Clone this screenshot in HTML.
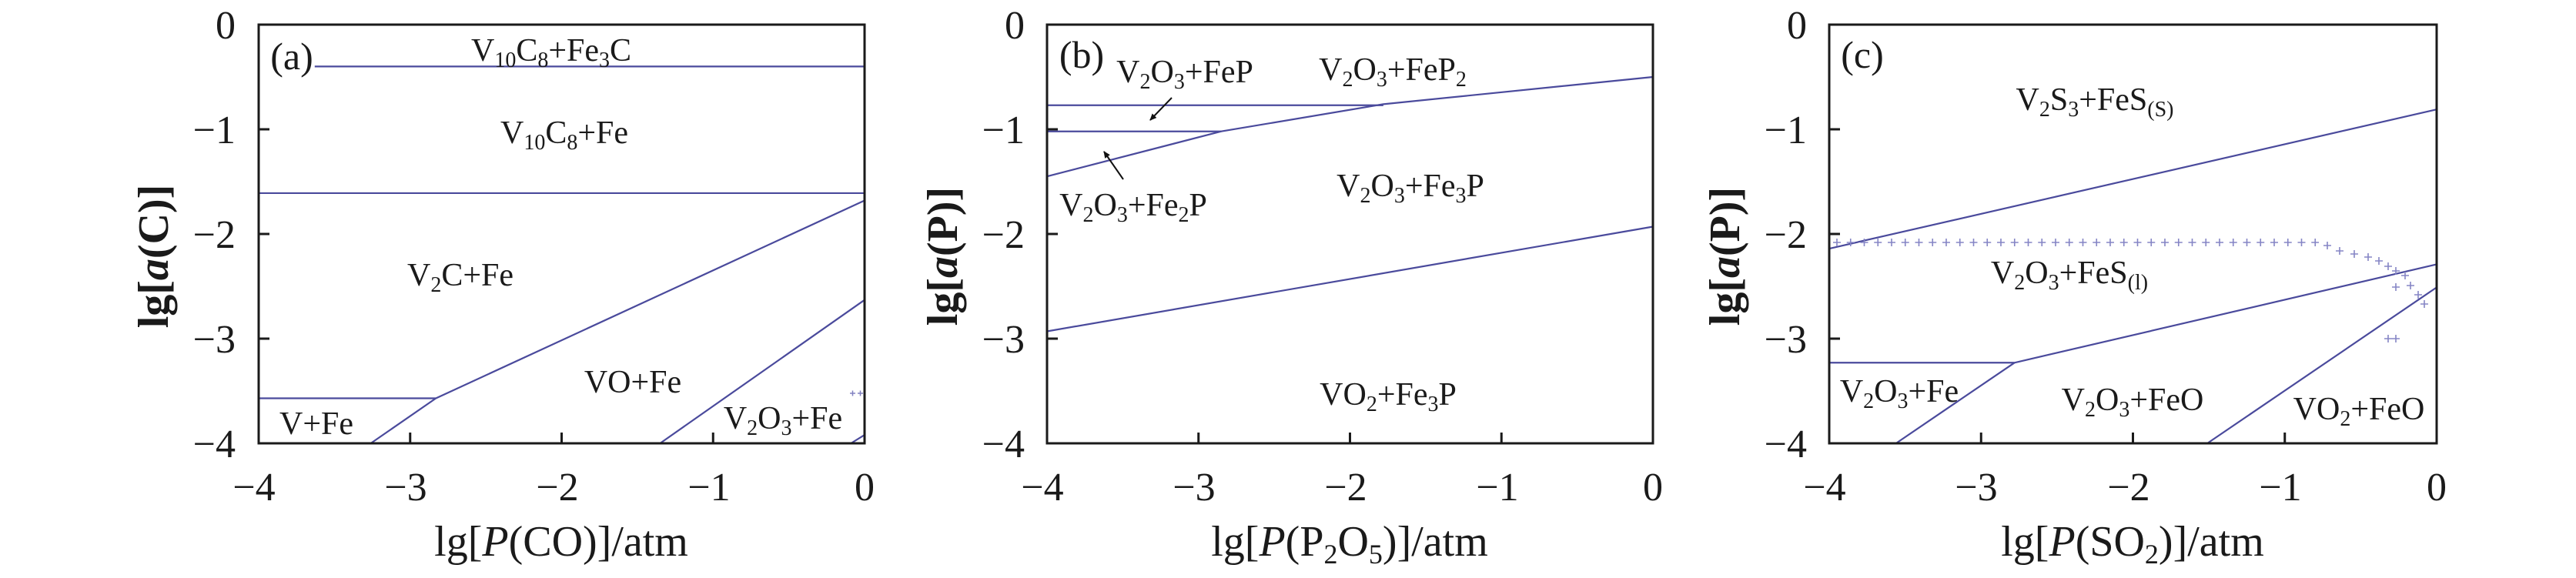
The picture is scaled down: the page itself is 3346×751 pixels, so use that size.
<!DOCTYPE html>
<html><head><meta charset="utf-8"><style>
html,body{margin:0;padding:0;background:#fff;}
svg{display:block;}
svg text{font-family:"Liberation Serif","Times New Roman",Times,serif;fill:#1a1a1a;}
.tk{font-size:52px;}
.lb{font-size:42px;}
.ti{font-size:56px;}
</style></head><body>
<svg width="3346" height="751" viewBox="0 0 3346 751" xmlns="http://www.w3.org/2000/svg" font-family="Liberation Serif, Times New Roman, serif">
<defs>
<marker id="ah" markerWidth="10" markerHeight="10" refX="8" refY="5" orient="auto" markerUnits="userSpaceOnUse">
<path d="M0,1 L9,5 L0,9 z" fill="#111"/></marker>
</defs>

<!-- ============ PANEL A ============ -->
<g fill="none" stroke="#4a4a9c" stroke-width="2.2" transform="translate(336,32) scale(196.75,-136) translate(4,0)">
<path vector-effect="non-scaling-stroke" d="M-3.63,-0.40 L0,-0.40"/>
<path vector-effect="non-scaling-stroke" d="M-4,-1.61 L0,-1.61"/>
<path vector-effect="non-scaling-stroke" d="M-4,-3.57 L-2.83,-3.57 L0,-1.68"/>
<path vector-effect="non-scaling-stroke" d="M-2.83,-3.57 L-3.26,-4"/>
<path vector-effect="non-scaling-stroke" d="M-1.35,-4 L0,-2.63"/>
<path vector-effect="non-scaling-stroke" d="M-0.09,-4 L0,-3.92"/>
</g>
<g stroke="#8080c0" stroke-width="1.5"><path d="M1104,511h7M1107.5,507.5v7M1114,511h7M1117.5,507.5v7"/></g>
<rect x="336" y="32" width="787" height="544" fill="none" stroke="#1a1a1a" stroke-width="3"/>
<g stroke="#1a1a1a" stroke-width="3">
<path d="M336,168h14M336,304h14M336,440h14M532.75,576v-14M729.5,576v-14M926.25,576v-14"/>
</g>
<g class="tk" text-anchor="end">
<text x="306" y="50">0</text><text x="306" y="186">−1</text><text x="306" y="322">−2</text><text x="306" y="458">−3</text><text x="306" y="594">−4</text>
</g>
<g class="tk" text-anchor="middle">
<text x="330" y="650">−4</text><text x="527" y="650">−3</text><text x="724" y="650">−2</text><text x="921" y="650">−1</text><text x="1123" y="650">0</text>
</g>
<text class="ti" x="729" y="722" text-anchor="middle">lg[<tspan font-style="italic">P</tspan>(CO)]/atm</text>
<text class="ti" font-weight="bold" transform="translate(218,333) rotate(-90)" text-anchor="middle">lg[<tspan font-style="italic">a</tspan>(C)]</text>
<g class="lb" text-anchor="middle">
<text x="379" y="90" font-size="50">(a)</text>
<text x="716" y="79">V<tspan font-size="28" dy="8">10</tspan><tspan dy="-8">C</tspan><tspan font-size="28" dy="8">8</tspan><tspan dy="-8">+Fe</tspan><tspan font-size="28" dy="8">3</tspan><tspan dy="-8">C</tspan></text>
<text x="733" y="186">V<tspan font-size="28" dy="8">10</tspan><tspan dy="-8">C</tspan><tspan font-size="28" dy="8">8</tspan><tspan dy="-8">+Fe</tspan></text>
<text x="598" y="371">V<tspan font-size="28" dy="8">2</tspan><tspan dy="-8">C+Fe</tspan></text>
<text x="822" y="510">VO+Fe</text>
<text x="411" y="564">V+Fe</text>
<text x="1017" y="557">V<tspan font-size="28" dy="8">2</tspan><tspan dy="-8">O</tspan><tspan font-size="28" dy="8">3</tspan><tspan dy="-8">+Fe</tspan></text>
</g>

<!-- ============ PANEL B ============ -->
<g fill="none" stroke="#4a4a9c" stroke-width="2.2" transform="translate(1360,32) scale(196.75,-136) translate(4,0)">
<path vector-effect="non-scaling-stroke" d="M-4,-0.77 L-1.78,-0.77"/>
<path vector-effect="non-scaling-stroke" d="M-4,-1.02 L-2.85,-1.02"/>
<path vector-effect="non-scaling-stroke" d="M-4,-1.45 L-2.85,-1.02 L-1.78,-0.76 L0,-0.50"/>
<path vector-effect="non-scaling-stroke" d="M-4,-2.93 L0,-1.93"/>
</g>
<g stroke="#111" stroke-width="2">
<line x1="1522" y1="127" x2="1494" y2="156" marker-end="url(#ah)"/>
<line x1="1459" y1="233" x2="1434" y2="197" marker-end="url(#ah)"/>
</g>
<rect x="1360" y="32" width="787" height="544" fill="none" stroke="#1a1a1a" stroke-width="3"/>
<g stroke="#1a1a1a" stroke-width="3">
<path d="M1360,168h14M1360,304h14M1360,440h14M1556.75,576v-14M1753.5,576v-14M1950.25,576v-14"/>
</g>
<g class="tk" text-anchor="end">
<text x="1331" y="50">0</text><text x="1331" y="186">−1</text><text x="1331" y="322">−2</text><text x="1331" y="458">−3</text><text x="1331" y="594">−4</text>
</g>
<g class="tk" text-anchor="middle">
<text x="1354" y="650">−4</text><text x="1551" y="650">−3</text><text x="1748" y="650">−2</text><text x="1945" y="650">−1</text><text x="2147" y="650">0</text>
</g>
<text class="ti" x="1753" y="722" text-anchor="middle">lg[<tspan font-style="italic">P</tspan>(P<tspan font-size="36" dy="10">2</tspan><tspan dy="-10">O</tspan><tspan font-size="36" dy="10">5</tspan><tspan dy="-10">)]/atm</tspan></text>
<text class="ti" font-weight="bold" transform="translate(1243,333) rotate(-90)" text-anchor="middle">lg[<tspan font-style="italic">a</tspan>(P)]</text>
<g class="lb" text-anchor="middle">
<text x="1405" y="88" font-size="50">(b)</text>
<text x="1539" y="107">V<tspan font-size="28" dy="8">2</tspan><tspan dy="-8">O</tspan><tspan font-size="28" dy="8">3</tspan><tspan dy="-8">+FeP</tspan></text>
<text x="1809" y="104">V<tspan font-size="28" dy="8">2</tspan><tspan dy="-8">O</tspan><tspan font-size="28" dy="8">3</tspan><tspan dy="-8">+FeP</tspan><tspan font-size="28" dy="8">2</tspan></text>
<text x="1472" y="280">V<tspan font-size="28" dy="8">2</tspan><tspan dy="-8">O</tspan><tspan font-size="28" dy="8">3</tspan><tspan dy="-8">+Fe</tspan><tspan font-size="28" dy="8">2</tspan><tspan dy="-8">P</tspan></text>
<text x="1832" y="255">V<tspan font-size="28" dy="8">2</tspan><tspan dy="-8">O</tspan><tspan font-size="28" dy="8">3</tspan><tspan dy="-8">+Fe</tspan><tspan font-size="28" dy="8">3</tspan><tspan dy="-8">P</tspan></text>
<text x="1803" y="526">VO<tspan font-size="28" dy="8">2</tspan><tspan dy="-8">+Fe</tspan><tspan font-size="28" dy="8">3</tspan><tspan dy="-8">P</tspan></text>
</g>

<!-- ============ PANEL C ============ -->
<g fill="none" stroke="#4a4a9c" stroke-width="2.2" transform="translate(2376,32) scale(197.25,-136) translate(4,0)">
<path vector-effect="non-scaling-stroke" d="M-4,-2.14 L0,-0.81"/>
<path vector-effect="non-scaling-stroke" d="M-4,-3.23 L-2.78,-3.23 L0,-2.29"/>
<path vector-effect="non-scaling-stroke" d="M-2.78,-3.23 L-3.56,-4"/>
<path vector-effect="non-scaling-stroke" d="M-1.51,-4 L0,-2.51"/>
</g>
<g stroke="#8585c5" fill="none">
<line x1="2381" y1="315" x2="3012" y2="315" stroke-width="1.6" stroke-dasharray="10 7.75"/>
<line x1="2385.2" y1="315" x2="3012" y2="315" stroke-width="10" stroke-dasharray="1.6 16.15"/>
<path stroke-width="1.6" d="M3018,319h10M3023,314v10M3034,326h10M3039,321v10M3053,330h10M3058,325v10M3071,334h10M3076,329v10M3085,339h10M3090,334v10M3097,346h10M3102,341v10M3107,352h10M3112,347v10M3119,358h10M3124,353v10M3126,371h10M3131,366v10M3107,373h10M3112,368v10M3136,383h10M3141,378v10M3144,395h10M3149,390v10M3097,440h10M3102,435v10M3107,440h10M3112,435v10"/>
</g>
<rect x="2376" y="32" width="789" height="544" fill="none" stroke="#1a1a1a" stroke-width="3"/>
<g stroke="#1a1a1a" stroke-width="3">
<path d="M2376,168h14M2376,304h14M2376,440h14M2573.25,576v-14M2770.5,576v-14M2967.75,576v-14"/>
</g>
<g class="tk" text-anchor="end">
<text x="2347" y="50">0</text><text x="2347" y="186">−1</text><text x="2347" y="322">−2</text><text x="2347" y="458">−3</text><text x="2347" y="594">−4</text>
</g>
<g class="tk" text-anchor="middle">
<text x="2370" y="650">−4</text><text x="2567" y="650">−3</text><text x="2765" y="650">−2</text><text x="2962" y="650">−1</text><text x="3165" y="650">0</text>
</g>
<text class="ti" x="2770" y="722" text-anchor="middle">lg[<tspan font-style="italic">P</tspan>(SO<tspan font-size="36" dy="10">2</tspan><tspan dy="-10">)]/atm</tspan></text>
<text class="ti" font-weight="bold" transform="translate(2259,333) rotate(-90)" text-anchor="middle">lg[<tspan font-style="italic">a</tspan>(P)]</text>
<g class="lb" text-anchor="middle">
<text x="2419" y="88" font-size="50">(c)</text>
<text x="2721" y="143">V<tspan font-size="28" dy="8">2</tspan><tspan dy="-8">S</tspan><tspan font-size="28" dy="8">3</tspan><tspan dy="-8">+FeS</tspan><tspan font-size="28" dy="8">(S)</tspan></text>
<text x="2688" y="368">V<tspan font-size="28" dy="8">2</tspan><tspan dy="-8">O</tspan><tspan font-size="28" dy="8">3</tspan><tspan dy="-8">+FeS</tspan><tspan font-size="28" dy="8">(l)</tspan></text>
<text x="2467" y="522">V<tspan font-size="28" dy="8">2</tspan><tspan dy="-8">O</tspan><tspan font-size="28" dy="8">3</tspan><tspan dy="-8">+Fe</tspan></text>
<text x="2770" y="533">V<tspan font-size="28" dy="8">2</tspan><tspan dy="-8">O</tspan><tspan font-size="28" dy="8">3</tspan><tspan dy="-8">+FeO</tspan></text>
<text x="3064" y="545">VO<tspan font-size="28" dy="8">2</tspan><tspan dy="-8">+FeO</tspan></text>
</g>
</svg>
</body></html>
